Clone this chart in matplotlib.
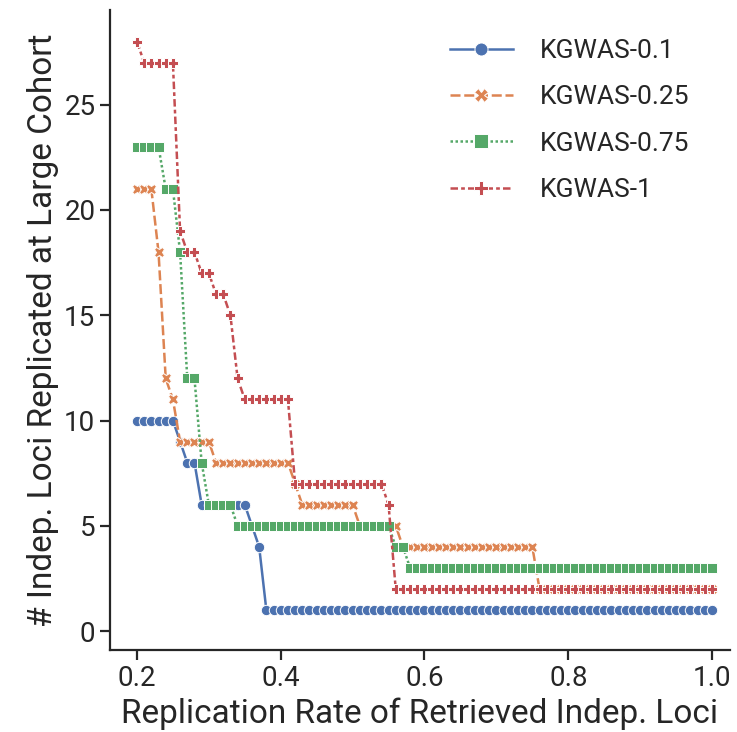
import numpy as np
import matplotlib.pyplot as plt

plt.rcParams['font.family'] = ['Roboto', 'DejaVu Sans']
plt.rcParams['text.color'] = '0.15'
plt.rcParams['axes.labelcolor'] = '0.15'
plt.rcParams['xtick.color'] = '0.15'
plt.rcParams['ytick.color'] = '0.15'

# replication rate thresholds 0.20 .. 1.00
rate = np.round(np.arange(20, 101) / 100, 2)

def steps(pairs):
    # pairs of (value, count) -> list of values
    out = []
    for v, n in pairs:
        out += [v] * n
    return out

kgwas_01 = steps([(10, 6), (9, 1), (8, 2), (6, 7), (5, 1), (4, 1), (1, 63)])
kgwas_025 = steps([(21, 3), (18, 1), (12, 1), (11, 1), (9, 5), (8, 11), (7, 1),
                   (6, 8), (5, 6), (4, 19), (2, 25)])
kgwas_075 = steps([(23, 4), (21, 2), (18, 1), (12, 2), (8, 1), (6, 4), (5, 22),
                   (4, 2), (3, 43)])
kgwas_1 = steps([(28, 1), (27, 5), (19, 1), (18, 2), (17, 2), (16, 2), (15, 1),
                 (12, 1), (11, 7), (7, 13), (6, 1), (2, 45)])

series = [
    ('KGWAS-0.1', kgwas_01, '#4C72B0', 'o', '-'),
    ('KGWAS-0.25', kgwas_025, '#DD8452', 'X', (0, (4, 1.5))),
    ('KGWAS-0.75', kgwas_075, '#55A868', 's', (0, (1, 1))),
    ('KGWAS-1', kgwas_1, '#C44E52', 'P', (0, (3, 1.25, 1.5, 1.25))),
]

fig = plt.figure(figsize=(7.37, 7.32), dpi=100)
ax = fig.add_axes([110 / 737, 82 / 732, 620 / 737, 640 / 732])

for name, vals, col, mk, ls in series:
    ax.plot(rate, vals, color=col, marker=mk, linestyle=ls, linewidth=1.8,
            markersize=7.5, markeredgecolor='white', markeredgewidth=0.7,
            label=name)

ax.set_xlim(0.1625, 1.025)
ax.set_ylim(-0.9, 29.5)
ax.set_xticks([0.2, 0.4, 0.6, 0.8, 1.0])
ax.set_yticks([0, 5, 10, 15, 20, 25])
ax.tick_params(labelsize=20, width=1.6, length=7, color='0.15')
for s in ['top', 'right']:
    ax.spines[s].set_visible(False)
for s in ['left', 'bottom']:
    ax.spines[s].set_linewidth(1.6)
    ax.spines[s].set_color('0.15')
ax.set_xlabel('Replication Rate of Retrieved Indep. Loci', fontsize=24)
ax.set_ylabel('# Indep. Loci Replicated at Large Cohort', fontsize=24)
ax.legend(frameon=False, fontsize=19, loc='upper left',
          bbox_to_anchor=(0.548, 0.955), borderpad=0, borderaxespad=0,
          handlelength=2.4, handletextpad=1.0, labelspacing=0.85,
          markerscale=1.25)

fig.savefig('out.png', dpi=100)
